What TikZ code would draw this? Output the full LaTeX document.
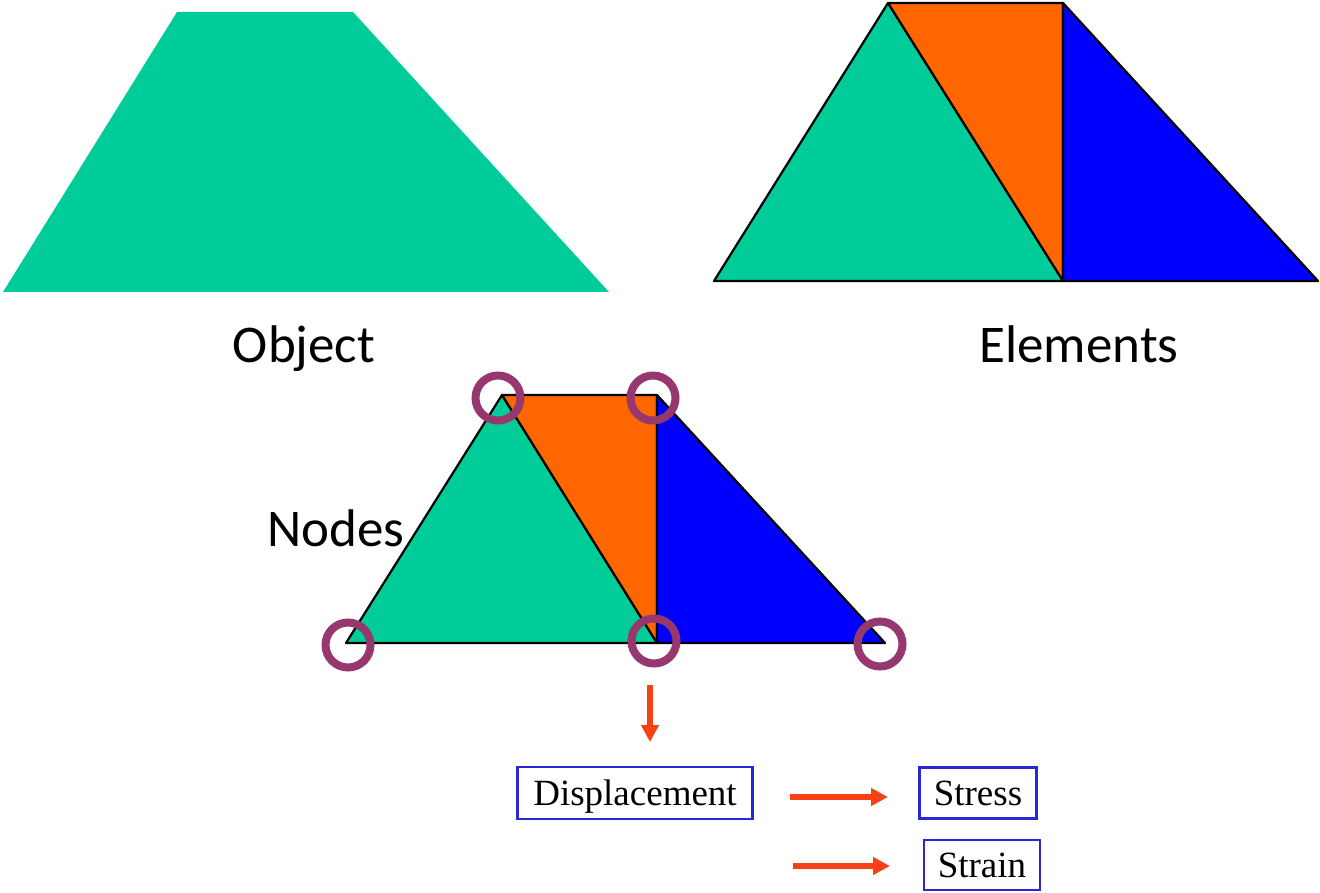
\documentclass[tikz,border=0pt]{standalone}
\usepackage{fontspec}
\setmainfont{Carlito}
\newfontfamily\boxfont{Liberation Serif}
\usetikzlibrary{arrows.meta,positioning}
\definecolor{meshTeal}{RGB}{0,204,153}
\definecolor{meshOrange}{RGB}{255,102,0}
\definecolor{meshBlue}{RGB}{0,0,255}
\definecolor{ringPurple}{RGB}{150,55,110}
\definecolor{flowRed}{RGB}{245,65,20}
\definecolor{boxBlue}{RGB}{40,40,215}
\tikzset{
  elemln/.style={draw=black, line width=2.2pt, line join=round},
  nodering/.style={circle, draw=ringPurple, line width=8pt, minimum size=45pt, inner sep=0pt},
  bigtxt/.style={font=\fontsize{53}{60}\selectfont, anchor=base},
  resbox/.style={draw=boxBlue, line width=2.8pt, inner sep=0pt, text depth=0.05em,
    font=\boxfont\fontsize{37}{42}\selectfont},
  flowarr/.style={-{Triangle[length=17pt,width=17pt]}, line width=6.5pt, flowRed},
}

\begin{document}
\begin{tikzpicture}[x=1pt,y=-1pt]
    \useasboundingbox (0,0) rectangle (1320,893);
    % the object
    \fill[meshTeal] (177,12) -- (353,12) -- (609,292) -- (3,292) -- cycle;
    \node[bigtxt] (objlbl) at (304,362) {Object};
    % the elements
    \coordinate (eA) at (714,281);
    \coordinate (eB) at (888,3);
    \coordinate (eC) at (1063,3);
    \coordinate (eD) at (1063,281);
    \coordinate (eE) at (1318,281);
    \filldraw[elemln, fill=meshTeal] (eA) -- (eB) -- (eD) -- cycle;
    \filldraw[elemln, fill=meshOrange] (eB) -- (eC) -- (eD) -- cycle;
    \filldraw[elemln, fill=meshBlue] (eC) -- (eE) -- (eD) -- cycle;
    \node[bigtxt] (elemlbl) at (1079,362) {Elements};
    % the mesh with its nodes
    \coordinate (nA) at (346,643);
    \coordinate (nB) at (502,395);
    \coordinate (nC) at (657,395);
    \coordinate (nD) at (657,643);
    \coordinate (nE) at (885,643);
    \filldraw[elemln, fill=meshTeal] (nA) -- (nB) -- (nD) -- cycle;
    \filldraw[elemln, fill=meshOrange] (nB) -- (nC) -- (nD) -- cycle;
    \filldraw[elemln, fill=meshBlue] (nC) -- (nE) -- (nD) -- cycle;
    \foreach \n/\p in {rA/{348,645}, rB/{498,398}, rC/{653,398}, rD/{654,641}, rE/{880,644}}
      \node[nodering] (\n) at (\p) {};
    \node[bigtxt] (nodelbl) at (336,546) {Nodes};
    % results
    \node[resbox, minimum width=235pt, minimum height=52pt] (disp) at (635,793) {Displacement};
    \node[resbox, minimum width=117pt, minimum height=51pt] (stress) at (978,793) {Stress};
    \node[resbox, minimum width=116pt, minimum height=50pt] (strain) at (982,865) {Strain};
    \coordinate (dTop) at (650,685);
    \coordinate (dEnd) at (650,742);
    \coordinate (sTop) at (790,797);
    \coordinate (sEnd) at (888,797);
    \coordinate (tTop) at (793,866);
    \coordinate (tEnd) at (890,866);
    \draw[flowarr] (dTop) -- (dEnd);
    \draw[flowarr] (sTop) -- (sEnd);
    \draw[flowarr] (tTop) -- (tEnd);
  \end{tikzpicture}
\end{document}
